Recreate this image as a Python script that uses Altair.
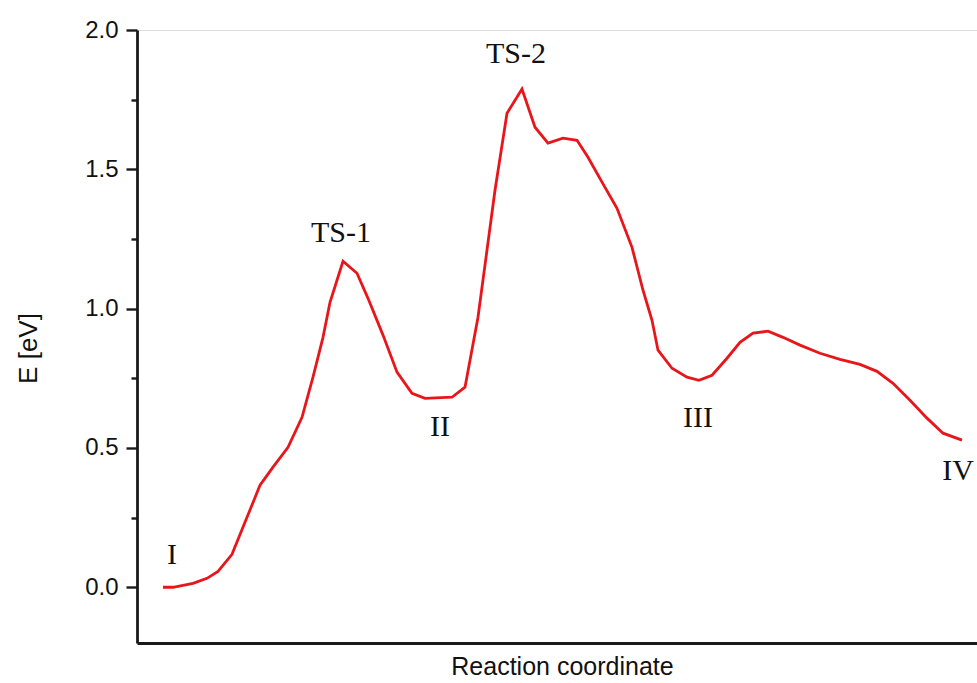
import altair as alt
import pandas as pd

# Energy profile (arbitrary reaction-coordinate units)
coord = [26, 36, 56, 70, 81, 95, 110, 123, 136, 151, 165, 176, 186, 193, 206, 220, 231,
         246, 260, 275, 288, 315, 328, 341, 358, 370, 385, 398, 411, 426, 440, 451, 465,
         480, 495, 506, 515, 521, 535, 550, 562, 575, 590, 603, 616, 631, 646, 663, 683,
         703, 723, 740, 756, 773, 790, 806, 825]
energy = [0.000, 0.000, 0.014, 0.032, 0.057, 0.118, 0.251, 0.366, 0.431, 0.502, 0.610,
          0.754, 0.897, 1.023, 1.170, 1.127, 1.037, 0.905, 0.772, 0.696, 0.678, 0.682,
          0.718, 0.969, 1.425, 1.701, 1.788, 1.651, 1.594, 1.612, 1.604, 1.543, 1.454,
          1.360, 1.220, 1.066, 0.958, 0.851, 0.786, 0.754, 0.743, 0.761, 0.822, 0.879,
          0.912, 0.919, 0.897, 0.869, 0.840, 0.818, 0.800, 0.775, 0.732, 0.671, 0.607,
          0.553, 0.528]

labels = ["I", "TS-1", "II", "TS-2", "III", "IV"]
label_x = [35, 204, 303, 379, 561, 821]
label_y = [0.115, 1.271, 0.574, 1.913, 0.607, 0.416]

y_ticks = [0, 0.25, 0.5, 0.75, 1.0, 1.25, 1.5, 1.75, 2.0]

curve = pd.DataFrame({"x": coord, "E": energy})
ann = pd.DataFrame({"x": label_x, "E": label_y, "label": labels})

xscale = alt.Scale(domain=[0, 840], nice=False, zero=False)
yscale = alt.Scale(domain=[-0.2, 2.0], nice=False, zero=False)

line = alt.Chart(curve).mark_line(color="#e8161b", strokeWidth=2.8).encode(
    x=alt.X("x:Q", scale=xscale,
            axis=alt.Axis(title="Reaction coordinate", ticks=False, labels=False, grid=False,
                          domain=True, domainColor="#1a1a1a", domainWidth=2.8,
                          titleFont="Liberation Sans", titleFontSize=25, titleFontWeight="normal",
                          titleColor="#111111", titleX=425, titleY=31, titleAlign="center",
                          titleBaseline="alphabetic")),
    y=alt.Y("E:Q", scale=yscale,
            axis=alt.Axis(title="E [eV]", values=y_ticks, grid=False,
                          labelExpr="datum.value % 0.5 === 0 ? format(datum.value, '.1f') : ''",
                          tickSize={"condition": {"test": "datum.value % 0.5 !== 0", "value": 6},
                                    "value": 11},
                          tickColor="#1a1a1a", tickWidth=2.4, domainColor="#1a1a1a", domainWidth=2.8,
                          labelFont="Liberation Sans", labelFontSize=24, labelColor="#111111",
                          labelPadding=8,
                          titleFont="Liberation Sans", titleFontSize=26, titleFontWeight="normal",
                          titleColor="#111111", titleX=-109, titleY=318, titleAlign="center",
                          titleBaseline="middle")),
)

text = alt.Chart(ann).mark_text(font="Liberation Serif", fontSize=30, color="#111111",
                                align="center", baseline="middle").encode(
    x=alt.X("x:Q", scale=xscale),
    y=alt.Y("E:Q", scale=yscale),
    text="label:N",
)

chart = alt.layer(line, text).properties(
    width=840, height=613,
    autosize=alt.AutoSizeParams(type="none"),
    padding={"left": 137, "top": 30, "right": 0, "bottom": 40},
).configure_view(stroke=None).configure(background="white")

chart.save("out.html", embed_options={"renderer": "svg", "actions": False})
